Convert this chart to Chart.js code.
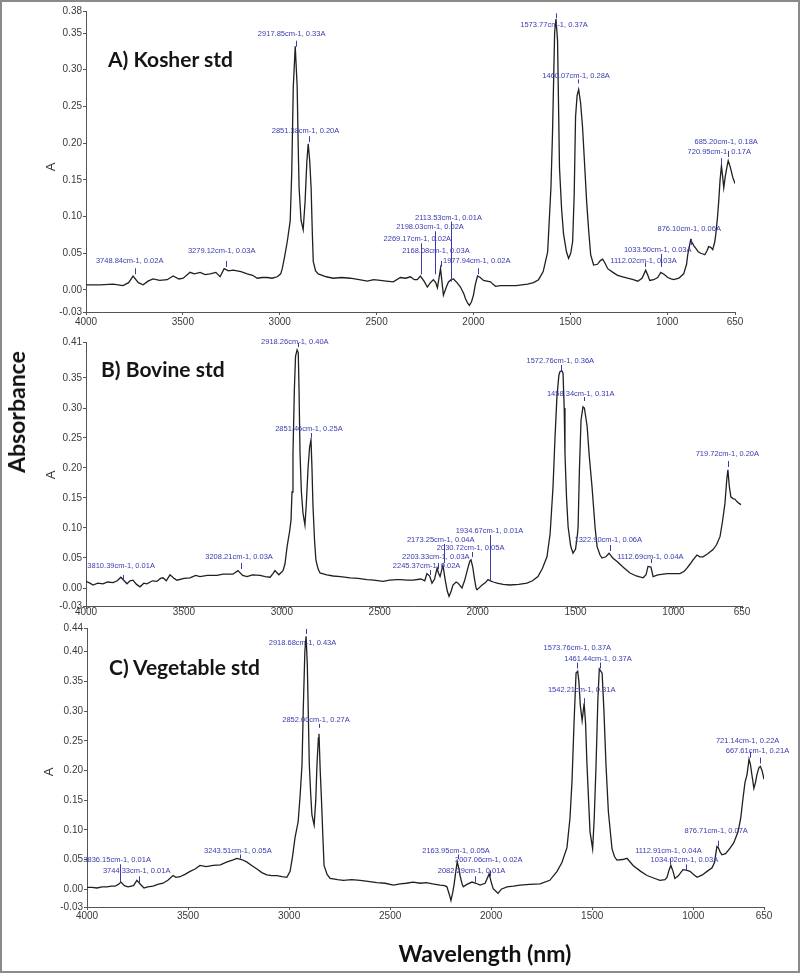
<!DOCTYPE html>
<html>
<head>
<meta charset="utf-8">
<script src="https://cdn.jsdelivr.net/npm/chart.js@4.4.0/dist/chart.umd.min.js"></script>
<style>
  body { margin: 0; background: #fff; }
  #wrap { position: relative; width: 800px; height: 973px; overflow: hidden; background: #fff; }
  #wrap canvas { position: absolute; left: 0; }
  .frame { position: absolute; left: 0; top: 0; width: 800px; height: 973px; box-sizing: border-box; border: 2px solid #8a8a8a; pointer-events: none; }
  .title { position: absolute; font-family: Lato, sans-serif; font-weight: 700; font-size: 21px; line-height: 21px; color: #151515; white-space: nowrap; }
  .ylab { position: absolute; font-family: "Liberation Sans", Arial, sans-serif; font-size: 13px; color: #333; transform: translate(-50%, -50%) rotate(-90deg); }
  .big { position: absolute; font-family: Lato, sans-serif; font-weight: 700; color: #111; white-space: nowrap; transform: translate(-50%, -50%); }
</style>
</head>
<body>
<div id="wrap">
  <canvas id="chartA" width="800" height="340" style="top:0px"></canvas>
  <canvas id="chartB" width="800" height="310" style="top:320px"></canvas>
  <canvas id="chartC" width="800" height="330" style="top:610px"></canvas>

  <div class="title" style="left:108px; top:48px;">A) Kosher std</div>
  <div class="title" style="left:101px; top:358px;">B) Bovine std</div>
  <div class="title" style="left:109px; top:656px;">C) Vegetable std</div>

  <div class="ylab" style="left:50px; top:167px;">A</div>
  <div class="ylab" style="left:50px; top:475px;">A</div>
  <div class="ylab" style="left:48px; top:772px;">A</div>

  <div class="big" style="left:16px; top:412px; font-size:23px; transform: translate(-50%, -50%) rotate(-90deg);">Absorbance</div>
  <div class="big" style="left:485px; top:953px; font-size:23px;">Wavelength (nm)</div>

  <div class="frame"></div>
</div>

<script>
// wavenumber ticks shared by the three spectra
var xTicks = [4000, 3500, 3000, 2500, 2000, 1500, 1000, 650];

// A) Kosher std
var wnA = [4000, 3928, 3860, 3809, 3780, 3757, 3730, 3705, 3680, 3654, 3620, 3581, 3550, 3520, 3498, 3463, 3440, 3411, 3385, 3359,
  3330, 3308, 3287, 3265, 3240, 3200, 3168, 3140, 3116, 3090, 3065, 3040, 3013, 2995, 2987, 2975, 2961, 2946, 2938, 2930,
  2920, 2910, 2905, 2900, 2890, 2879, 2869, 2860, 2853, 2845, 2838, 2832, 2827, 2815, 2801, 2760, 2724, 2680, 2636, 2590,
  2548, 2515, 2481, 2450, 2414, 2377, 2350, 2326, 2305, 2290, 2274, 2255, 2238, 2222, 2207, 2195, 2186, 2170, 2160, 2155,
  2140, 2129, 2115, 2103, 2085, 2067, 2050, 2041, 2030, 2021, 2010, 2000, 1990, 1979, 1965, 1948, 1930, 1912, 1900, 1886,
  1860, 1824, 1780, 1721, 1690, 1664, 1640, 1617, 1600, 1592, 1581, 1574, 1566, 1556, 1545, 1535, 1520, 1509, 1498, 1488,
  1480, 1473, 1465, 1457, 1447, 1437, 1426, 1416, 1405, 1395, 1380, 1360, 1345, 1333, 1320, 1307, 1280, 1256, 1230, 1204,
  1175, 1152, 1130, 1111, 1100, 1090, 1070, 1049, 1033, 1015, 997, 980, 966, 940, 915, 900, 894, 885, 879, 870,
  862, 853, 840, 827, 815, 806, 795, 786, 775, 765, 755, 749, 740, 734, 727, 720, 714, 708, 700, 692,
  685, 675, 661, 650];
var absA = [0.007, 0.007, 0.008, 0.006, 0.010, 0.019, 0.010, 0.007, 0.012, 0.015, 0.013, 0.014, 0.019, 0.015, 0.016, 0.024, 0.022, 0.024, 0.021, 0.022,
  0.024, 0.018, 0.029, 0.026, 0.027, 0.025, 0.022, 0.020, 0.016, 0.017, 0.017, 0.016, 0.018, 0.022, 0.029, 0.045, 0.066, 0.094, 0.160, 0.277,
  0.332, 0.277, 0.200, 0.139, 0.095, 0.082, 0.121, 0.175, 0.199, 0.175, 0.139, 0.080, 0.039, 0.026, 0.022, 0.018, 0.016, 0.017, 0.016, 0.014,
  0.012, 0.014, 0.013, 0.012, 0.011, 0.017, 0.016, 0.018, 0.014, 0.014, 0.019, 0.012, 0.004, 0.010, 0.014, 0.010, 0.003, 0.029, 0.005, -0.007,
  0.004, 0.011, 0.014, 0.015, 0.010, 0.004, -0.005, -0.012, -0.018, -0.021, -0.016, -0.007, 0.008, 0.019, 0.017, 0.013, 0.012, 0.011, 0.008, 0.005,
  0.006, 0.006, 0.006, 0.008, 0.010, 0.014, 0.025, 0.052, 0.140, 0.213, 0.351, 0.369, 0.340, 0.167, 0.110, 0.076, 0.052, 0.043, 0.050, 0.066,
  0.130, 0.236, 0.265, 0.273, 0.255, 0.222, 0.170, 0.121, 0.080, 0.048, 0.034, 0.035, 0.040, 0.042, 0.036, 0.029, 0.024, 0.020, 0.018, 0.016,
  0.014, 0.012, 0.016, 0.027, 0.020, 0.013, 0.014, 0.017, 0.024, 0.021, 0.017, 0.015, 0.014, 0.016, 0.022, 0.035, 0.048, 0.060, 0.068, 0.064,
  0.060, 0.057, 0.052, 0.050, 0.049, 0.048, 0.053, 0.059, 0.058, 0.055, 0.065, 0.076, 0.100, 0.121, 0.150, 0.169, 0.155, 0.139, 0.155, 0.167,
  0.176, 0.168, 0.153, 0.145];
var yTicksA = [0.38, 0.35, 0.30, 0.25, 0.20, 0.15, 0.10, 0.05, 0.00, -0.03];
var peakWnA = [3748.84, 3279.12, 2917.85, 2851.38, 1573.77, 1460.07, 685.20, 720.95, 876.10, 1033.50, 1112.02, 2113.53, 2198.03, 2269.17, 2168.08, 1977.94];
var peakAbsA = [0.02, 0.03, 0.33, 0.20, 0.37, 0.28, 0.18, 0.17, 0.06, 0.03, 0.03, 0.01, 0.02, 0.02, 0.03, 0.02];

// B) Bovine std
var wnB = [4000, 3980, 3964, 3940, 3913, 3890, 3862, 3840, 3822, 3805, 3791, 3775, 3760, 3742, 3724, 3705, 3689, 3660, 3638, 3620,
  3607, 3590, 3571, 3550, 3535, 3500, 3469, 3440, 3418, 3380, 3331, 3300, 3250, 3224, 3200, 3178, 3150, 3111, 3085, 3060,
  3045, 3035, 3015, 2994, 2984, 2973, 2960, 2953, 2948, 2943, 2936, 2930, 2922, 2916, 2912, 2907, 2900, 2892, 2882, 2875,
  2866, 2858, 2851, 2846, 2841, 2833, 2826, 2815, 2805, 2770, 2738, 2700, 2652, 2610, 2565, 2530, 2483, 2450, 2412, 2396,
  2360, 2330, 2290, 2270, 2259, 2245, 2233, 2220, 2207, 2200, 2192, 2177, 2166, 2155, 2146, 2135, 2126, 2110, 2100, 2090,
  2080, 2067, 2054, 2040, 2034, 2025, 2018, 2008, 2003, 1990, 1977, 1960, 1947, 1935, 1920, 1901, 1870, 1835, 1790, 1748,
  1720, 1692, 1670, 1646, 1630, 1615, 1605, 1595, 1585, 1579, 1570, 1564, 1558, 1554, 1546, 1538, 1525, 1513, 1500, 1490,
  1487, 1480, 1472, 1462, 1455, 1441, 1430, 1416, 1400, 1390, 1375, 1365, 1345, 1329, 1310, 1288, 1255, 1222, 1190, 1155,
  1140, 1130, 1115, 1104, 1080, 1033, 1000, 967, 945, 931, 915, 900, 880, 865, 849, 825, 798, 780, 762, 750,
  737, 728, 722, 715, 707, 696, 686, 676, 665, 655];
var absB = [0.011, 0.008, 0.005, 0.008, 0.007, 0.010, 0.009, 0.012, 0.018, 0.012, 0.007, 0.012, 0.013, 0.006, 0.002, 0.008, 0.007, 0.012, 0.011, 0.016,
  0.017, 0.012, 0.022, 0.016, 0.013, 0.016, 0.017, 0.021, 0.019, 0.021, 0.021, 0.023, 0.023, 0.029, 0.021, 0.019, 0.022, 0.021, 0.019, 0.018,
  0.024, 0.029, 0.022, 0.029, 0.040, 0.069, 0.095, 0.113, 0.160, 0.224, 0.330, 0.386, 0.397, 0.392, 0.330, 0.224, 0.160, 0.125, 0.105, 0.140,
  0.200, 0.235, 0.247, 0.200, 0.138, 0.080, 0.047, 0.032, 0.025, 0.022, 0.020, 0.019, 0.017, 0.016, 0.014, 0.013, 0.011, 0.013, 0.014, 0.014,
  0.013, 0.013, 0.015, 0.012, 0.024, 0.020, 0.008, 0.015, 0.033, 0.025, 0.019, 0.038, 0.014, -0.005, -0.014, -0.005, 0.005, 0.010, 0.008, 0.004,
  0.000, 0.012, 0.028, 0.045, 0.047, 0.035, 0.019, 0.000, -0.003, 0.001, 0.005, 0.009, 0.014, 0.012, 0.010, 0.008, 0.006, 0.005, 0.006, 0.008,
  0.012, 0.019, 0.032, 0.052, 0.090, 0.169, 0.250, 0.319, 0.355, 0.361, 0.362, 0.358, 0.300, 0.224, 0.150, 0.102, 0.070, 0.058, 0.065, 0.090,
  0.102, 0.200, 0.280, 0.302, 0.300, 0.270, 0.220, 0.169, 0.100, 0.069, 0.055, 0.050, 0.052, 0.058, 0.050, 0.044, 0.034, 0.025, 0.020, 0.017,
  0.022, 0.036, 0.035, 0.019, 0.022, 0.024, 0.024, 0.024, 0.028, 0.033, 0.040, 0.047, 0.055, 0.052, 0.052, 0.057, 0.064, 0.072, 0.086, 0.110,
  0.141, 0.180, 0.197, 0.170, 0.152, 0.149, 0.148, 0.144, 0.141, 0.139];
var yTicksB = [0.41, 0.35, 0.30, 0.25, 0.20, 0.15, 0.10, 0.05, 0.00, -0.03];
var peakWnB = [3810.39, 3208.21, 2918.26, 2851.46, 1572.76, 1458.34, 719.72, 1322.90, 1112.69, 1934.67, 2173.25, 2030.72, 2203.33, 2245.37];
var peakAbsB = [0.01, 0.03, 0.40, 0.25, 0.36, 0.31, 0.20, 0.06, 0.04, 0.01, 0.04, 0.05, 0.03, 0.02];

// C) Vegetable std
var wnC = [4000, 3975, 3951, 3925, 3901, 3880, 3861, 3845, 3832, 3815, 3797, 3770, 3753, 3735, 3718, 3700, 3673, 3650, 3624, 3600,
  3574, 3560, 3540, 3515, 3490, 3465, 3441, 3410, 3376, 3340, 3307, 3280, 3258, 3235, 3210, 3185, 3159, 3135, 3110, 3085,
  3060, 3035, 3011, 2995, 2983, 2971, 2955, 2945, 2936, 2930, 2922, 2916, 2910, 2904, 2900, 2893, 2887, 2876, 2868, 2862,
  2855, 2852, 2846, 2840, 2833, 2827, 2812, 2797, 2760, 2731, 2690, 2649, 2610, 2566, 2525, 2484, 2451, 2420, 2387, 2350,
  2321, 2290, 2253, 2230, 2219, 2208, 2199, 2190, 2184, 2175, 2168, 2160, 2154, 2145, 2138, 2120, 2095, 2075, 2055, 2030,
  2015, 2010, 2000, 1990, 1978, 1966, 1950, 1922, 1890, 1857, 1810, 1758, 1710, 1674, 1650, 1625, 1610, 1600, 1590, 1580,
  1572, 1566, 1559, 1550, 1540, 1533, 1526, 1518, 1511, 1498, 1490, 1481, 1472, 1465, 1451, 1442, 1432, 1420, 1402, 1390,
  1378, 1350, 1328, 1310, 1298, 1260, 1229, 1190, 1165, 1140, 1130, 1120, 1111, 1100, 1091, 1075, 1051, 1035, 1016, 1000,
  981, 955, 932, 907, 895, 883, 876, 866, 858, 840, 818, 800, 778, 765, 754, 744, 734, 724, 717, 710,
  700, 692, 685, 675, 668, 660, 655, 650];
var absC = [0.003, 0.003, 0.002, 0.004, 0.004, 0.005, 0.005, 0.008, 0.012, 0.006, 0.004, 0.006, 0.015, 0.008, 0.002, 0.004, 0.005, 0.008, 0.010, 0.015,
  0.023, 0.020, 0.021, 0.025, 0.030, 0.034, 0.040, 0.038, 0.040, 0.041, 0.046, 0.049, 0.052, 0.050, 0.046, 0.040, 0.034, 0.028, 0.024, 0.023,
  0.023, 0.021, 0.020, 0.030, 0.055, 0.086, 0.114, 0.160, 0.210, 0.301, 0.400, 0.426, 0.380, 0.280, 0.210, 0.160, 0.125, 0.108, 0.150, 0.210,
  0.255, 0.262, 0.200, 0.153, 0.090, 0.040, 0.025, 0.018, 0.016, 0.015, 0.016, 0.015, 0.013, 0.011, 0.010, 0.007, 0.009, 0.010, 0.012, 0.010,
  0.011, 0.009, 0.007, 0.006, 0.004, -0.008, -0.019, -0.005, 0.007, 0.030, 0.046, 0.035, 0.023, 0.010, 0.004, 0.008, 0.012, 0.010, 0.007, 0.010,
  0.022, 0.026, 0.012, 0.001, -0.003, -0.007, 0.000, 0.004, 0.005, 0.007, 0.008, 0.009, 0.015, 0.030, 0.045, 0.070, 0.120, 0.182, 0.280, 0.364,
  0.367, 0.350, 0.310, 0.284, 0.313, 0.280, 0.210, 0.150, 0.097, 0.068, 0.120, 0.210, 0.320, 0.371, 0.364, 0.300, 0.210, 0.130, 0.068, 0.055,
  0.049, 0.050, 0.052, 0.045, 0.040, 0.030, 0.023, 0.018, 0.015, 0.016, 0.020, 0.032, 0.040, 0.030, 0.018, 0.022, 0.033, 0.032, 0.030, 0.025,
  0.020, 0.024, 0.030, 0.036, 0.045, 0.072, 0.070, 0.062, 0.058, 0.060, 0.069, 0.078, 0.097, 0.120, 0.153, 0.180, 0.193, 0.219, 0.210, 0.193,
  0.170, 0.180, 0.193, 0.205, 0.207, 0.200, 0.193, 0.185];
var yTicksC = [0.44, 0.40, 0.35, 0.30, 0.25, 0.20, 0.15, 0.10, 0.05, 0.00, -0.03];
var peakWnC = [3836.15, 3744.33, 3243.51, 2918.68, 2852.00, 1573.76, 1461.44, 1542.21, 721.14, 667.61, 876.71, 1112.91, 1034.02, 2163.95, 2007.06, 2082.29];
var peakAbsC = [0.01, 0.01, 0.05, 0.43, 0.27, 0.37, 0.37, 0.31, 0.22, 0.21, 0.07, 0.04, 0.03, 0.05, 0.02, 0.01];

// where each peak label sits relative to its peak: [dx, dy, long marker line]
var labelPosA = [[-5, -14, 0], [-4, -17, 0], [-4, -14, 0], [-3, -12, 0], [-2, 7, 0], [-2, -8, 0], [-2, -16, 0], [-2, -13, 0],
  [-2, -17, 0], [-3, -18, 1], [-2, -7, 0], [-3, -65, 1], [-5, -48, 1], [-4, -36, 1], [-5, -17, 0], [-1, -14, 0]];
var labelPosB = [[-2, -16, 0], [-2, -13, 0], [-3, -6, 0], [-2, -9, 0], [-1, -11, 0], [-3, -8, 0], [-1, -14, 0], [-2, -12, 0],
  [-1, -7, 0], [-1, -51, 1], [-3, -24, 1], [-1, -10, 0], [-2, -13, 0], [-3, -10, 0]];
var labelPosC = [[-3, -23, 1], [-2, -12, 0], [-2, -9, 0], [-3, 9, 0], [-3, -9, 0], [0, -22, 0], [-2, -11, 0], [-2, -15, 0],
  [-2, -18, 0], [-3, -14, 0], [-2, -17, 0], [-2, -15, 0], [-2, -11, 0], [-2, -9, 0], [-1, -17, 0], [-3, -12, 0]];

// peak labels in blue, placed through the chart scales
var peakLabels = {
  id: 'peakLabels',
  afterDatasetsDraw: function (chart, args, opts) {
    var ctx = chart.ctx, xs = chart.scales.x, ys = chart.scales.y;
    ctx.save();
    ctx.font = '7.5px "Liberation Sans", Arial, sans-serif';
    ctx.fillStyle = '#3b3bb0';
    ctx.strokeStyle = '#3b3bb0';
    ctx.lineWidth = 1;
    ctx.textAlign = 'center';
    ctx.textBaseline = 'middle';
    opts.wn.forEach(function (w, i) {
      var px = xs.getPixelForValue(w), py = ys.getPixelForValue(opts.abs[i]);
      var p = opts.pos[i], tx = px + p[0], ty = py + p[1];
      ctx.fillText(w.toFixed(2) + 'cm-1, ' + opts.abs[i].toFixed(2) + 'A', tx, ty);
      var top, bot;
      if (p[1] > 0) { top = py - 5; bot = py; }
      else if (p[2]) { top = ty + 4; bot = py - 1; }
      else { top = Math.max(ty + 4, py - 7); bot = py - 1; if (bot - top < 4) top = bot - 4; }
      ctx.beginPath();
      ctx.moveTo(Math.round(px) + 0.5, top);
      ctx.lineTo(Math.round(px) + 0.5, bot);
      ctx.stroke();
    });
    ctx.restore();
  }
};

function drawPanel(id, wn, abs, yTicks, peakWn, peakAbs, labelPos, pad, xLabelPad) {
  var points = wn.map(function (w, i) { return { x: w, y: abs[i] }; });
  var tickFont = { family: '"Liberation Sans", Arial, sans-serif', size: 10 };

  return new Chart(document.getElementById(id), {
    type: 'line',
    data: {
      datasets: [{
        data: points,
        borderColor: '#202020',
        borderWidth: 1.3,
        pointRadius: 0,
        fill: false,
        tension: 0
      }]
    },
    options: {
      responsive: false,
      animation: false,
      events: [],
      layout: { padding: pad },
      plugins: {
        legend: { display: false },
        tooltip: { enabled: false },
        peakLabels: { wn: peakWn, abs: peakAbs, pos: labelPos }
      },
      scales: {
        x: {
          type: 'linear',
          reverse: true,
          min: 650,
          max: 4000,
          border: { color: '#555', width: 1 },
          grid: { drawOnChartArea: false, tickLength: 3, color: '#555' },
          ticks: { color: '#3a3a3a', font: tickFont, padding: xLabelPad, maxRotation: 0, autoSkip: false,
            callback: function (v) { return String(v); } },
          afterBuildTicks: function (s) { s.ticks = xTicks.map(function (v) { return { value: v }; }); },
          afterFit: function (s) { s.height = 14; }
        },
        y: {
          min: yTicks[yTicks.length - 1],
          max: yTicks[0],
          border: { color: '#555', width: 1 },
          grid: { drawOnChartArea: false, tickLength: 3, color: '#555' },
          ticks: { color: '#3a3a3a', font: tickFont, padding: 1, autoSkip: false,
            callback: function (v) { return v.toFixed(2); } },
          afterBuildTicks: function (s) { s.ticks = yTicks.map(function (v) { return { value: v }; }); },
          afterFit: function (s) { s.width = 40; }
        }
      }
    },
    plugins: [peakLabels]
  });
}

drawPanel('chartA', wnA, absA, yTicksA, peakWnA, peakAbsA, labelPosA, { left: 46, right: 65, top: 11, bottom: 14 }, 1);
drawPanel('chartB', wnB, absB, yTicksB, peakWnB, peakAbsB, labelPosB, { left: 46, right: 58, top: 22, bottom: 10 }, -3);
drawPanel('chartC', wnC, absC, yTicksC, peakWnC, peakAbsC, labelPosC, { left: 47, right: 36, top: 18, bottom: 19 }, 0);
</script>
</body>
</html>
